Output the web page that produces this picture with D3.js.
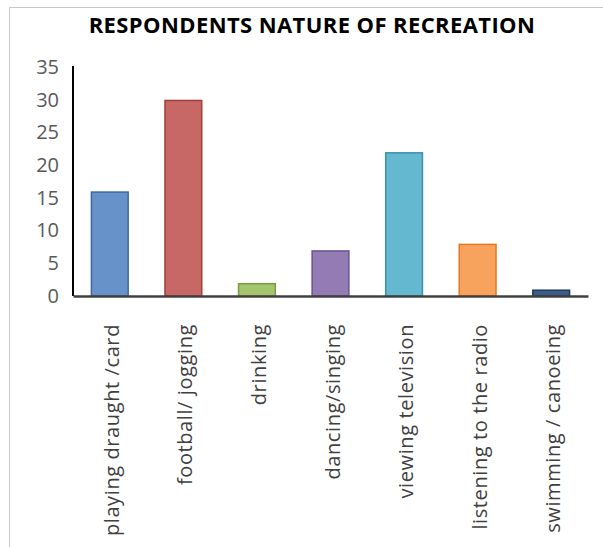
<!DOCTYPE html>
<html>
<head>
<meta charset="utf-8">
<script src="https://cdn.jsdelivr.net/npm/d3@7"></script>
<style>
  html, body { margin: 0; padding: 0; background: #ffffff; }
  svg { display: block; font-family: "Open Sans", "DejaVu Sans", sans-serif; }
</style>
</head>
<body>
<svg id="chart" width="603" height="547"></svg>
<script>
// Recreation activities and number of respondents
const categories = [
  "playing draught /card",
  "football/ jogging",
  "drinking",
  "dancing/singing",
  "viewing television",
  "listening to the radio",
  "swimming / canoeing"
];
const respondents = [16, 30, 2, 7, 22, 8, 1];
const yTicks = [0, 5, 10, 15, 20, 25, 30, 35];
const fills = ["#6792c9", "#c86866", "#a5c46e", "#937bb3", "#64b8cf", "#f7a35e", "#3b5d85"];
const strokes = ["#3f6aa0", "#a13e3c", "#7d9b44", "#6a5390", "#3c93ab", "#e3781e", "#1f3b5e"];

const svg = d3.select("#chart");

// outer frame
svg.append("rect")
  .attr("x", 9.5).attr("y", 7.5)
  .attr("width", 620).attr("height", 560)
  .attr("fill", "none").attr("stroke", "#c8c8c8").attr("stroke-width", 1);

// title
svg.append("text")
  .attr("x", 312).attr("y", 32.5)
  .attr("text-anchor", "middle")
  .attr("font-size", 22).attr("font-weight", "bold")
  .attr("letter-spacing", 0.4)
  .attr("fill", "#000")
  .text("RESPONDENTS NATURE OF RECREATION");

const plot = { left: 73, right: 588, top: 66, bottom: 296 };

const x = d3.scaleBand().domain(categories).range([plot.left, plot.right]).paddingInner(0.48).paddingOuter(0.24);
const y = d3.scaleLinear().domain([0, 35]).range([plot.bottom, plot.top + 1]);

// bars
svg.append("g").selectAll("rect")
  .data(categories)
  .join("rect")
  .attr("x", d => x(d) + 0.75)
  .attr("width", x.bandwidth() - 1.5)
  .attr("y", (d, i) => y(respondents[i]) + 0.75)
  .attr("height", (d, i) => y(0) - y(respondents[i]) - 0.75)
  .attr("fill", (d, i) => fills[i])
  .attr("stroke", (d, i) => strokes[i])
  .attr("stroke-width", 1.5);

// y axis
const yAxis = svg.append("g")
  .attr("transform", `translate(${plot.left},0)`)
  .call(d3.axisLeft(y).tickValues(yTicks).tickSize(0).tickPadding(14));
yAxis.select(".domain").attr("stroke", "#000").attr("stroke-width", 2)
  .attr("d", `M0,${plot.top}V${plot.bottom}`);
yAxis.selectAll("text")
  .attr("font-size", 20)
  .attr("fill", "#595959").attr("font-family", "Open Sans, sans-serif");

// x axis with rotated category labels
const xAxis = svg.append("g")
  .attr("transform", `translate(0,${plot.bottom})`)
  .call(d3.axisBottom(x).tickSize(0).tickPadding(0));
xAxis.select(".domain").attr("stroke", "#404040").attr("stroke-width", 2.5);
xAxis.selectAll("text")
  .attr("font-size", 20).attr("letter-spacing", 0.6)
  .attr("fill", "#404040").attr("font-family", "Open Sans, sans-serif")
  .attr("transform", "rotate(-90)")
  .attr("text-anchor", "end")
  .attr("dy", "0.45em")
  .attr("x", -28).attr("y", 0);
</script>
</body>
</html>
